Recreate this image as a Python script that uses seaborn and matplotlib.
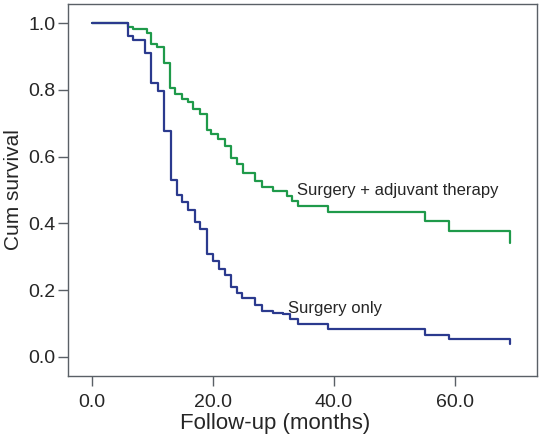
import matplotlib
matplotlib.use("Agg")
import matplotlib.pyplot as plt
import seaborn as sns
import pandas as pd

# Kaplan-Meier steps (months, cumulative survival)
adj_time = [0, 6.05, 6.9, 9.1, 9.9, 10.8, 11.9, 12.9, 13.8, 14.9, 16.0, 16.8,
            17.9, 19.0, 19.8, 20.9, 22.0, 23.0, 24.0, 25.1, 27.0, 28.1, 30.0,
            32.3, 33.1, 34.1, 39.1, 55.1, 59.1, 69.1]
adj_surv = [1.0, 0.987, 0.981, 0.971, 0.937, 0.927, 0.879, 0.806, 0.789, 0.774,
            0.764, 0.744, 0.729, 0.679, 0.667, 0.652, 0.632, 0.597, 0.577, 0.551,
            0.526, 0.508, 0.498, 0.483, 0.468, 0.453, 0.435, 0.406, 0.378, 0.341]

only_time = [0, 6.05, 6.9, 8.9, 9.8, 10.9, 11.95, 13.05, 14.05, 15.0, 16.0, 17.1,
             18.0, 19.0, 20.0, 21.1, 22.1, 23.1, 24.0, 24.9, 27.0, 28.1, 30.0,
             31.7, 32.8, 34.1, 39.1, 55.1, 59.1, 69.1]
only_surv = [1.0, 0.962, 0.949, 0.911, 0.819, 0.797, 0.676, 0.529, 0.486, 0.463,
             0.441, 0.403, 0.383, 0.308, 0.287, 0.263, 0.246, 0.21, 0.193, 0.178,
             0.155, 0.138, 0.133, 0.128, 0.113, 0.098, 0.083, 0.066, 0.053, 0.038]

groups = ["Surgery + adjuvant therapy", "Surgery only"]
colors = {"Surgery + adjuvant therapy": "#1f9a4a", "Surgery only": "#2b3a8e"}
xticks = [0, 20, 40, 60]
yticks = [0.0, 0.2, 0.4, 0.6, 0.8, 1.0]

df = pd.concat([
    pd.DataFrame({"time": adj_time, "surv": adj_surv, "group": groups[0]}),
    pd.DataFrame({"time": only_time, "surv": only_surv, "group": groups[1]}),
])

sns.set_style("white")
plt.rcParams["font.family"] = ["Liberation Sans", "DejaVu Sans"]

fig = plt.figure(figsize=(5.44, 4.37), dpi=100)
ax = fig.add_axes([0.125, 0.1396, 0.863, 0.8512])

sns.lineplot(data=df, x="time", y="surv", hue="group", palette=colors,
             drawstyle="steps-post", linewidth=1.6, legend=False, ax=ax,
             estimator=None, sort=False)

# Labels on the curves
ax.text(33.9, 0.498, groups[0], fontsize=12, va="center", ha="left")
ax.text(32.5, 0.144, groups[1], fontsize=12, va="center", ha="left")

ax.set_xlim(-3.9, 73.7)
ax.set_ylim(-0.057, 1.057)
ax.set_xticks(xticks)
ax.set_xticklabels([f"{v:.1f}" for v in xticks])
ax.set_yticks(yticks)
ax.set_yticklabels([f"{v:.1f}" for v in yticks])
ax.set_xlabel("Follow-up (months)", fontsize=16)
ax.set_ylabel("Cum survival", fontsize=15, labelpad=4)
ax.xaxis.set_label_coords(0.441, -0.099)

for s in ax.spines.values():
    s.set_color("#5a6066")
    s.set_linewidth(1.0)
ax.tick_params(axis="both", direction="out", length=7, width=1.0,
               color="#5a6066", labelsize=14, bottom=True, left=True)
ax.tick_params(axis="x", pad=6)
ax.tick_params(axis="y", pad=2)

fig.savefig("out.png", dpi=100)
